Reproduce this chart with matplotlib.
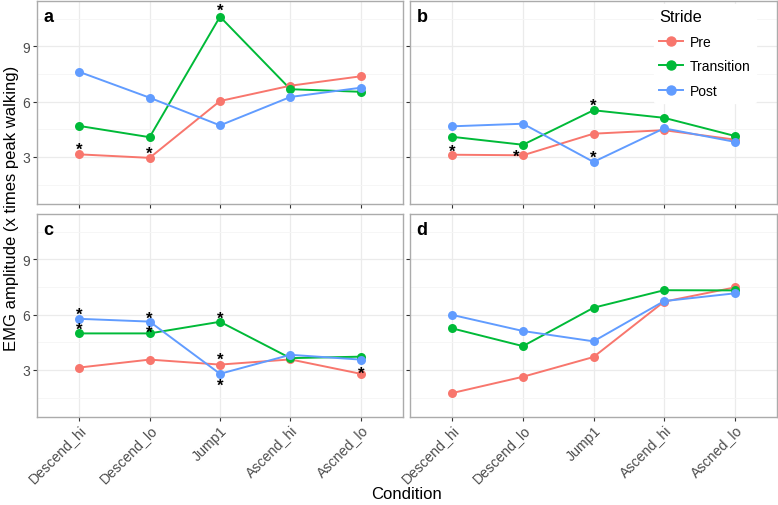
import matplotlib
matplotlib.use("Agg")
import matplotlib.pyplot as plt
from matplotlib.lines import Line2D
import matplotlib.transforms as mtransforms

plt.rcParams['font.family'] = ['Liberation Sans', 'DejaVu Sans']

conditions = ["Descend_hi", "Descend_lo", "Jump1", "Ascend_hi", "Ascned_lo"]
strides = ["Pre", "Transition", "Post"]
colors = {"Pre": "#F8766D", "Transition": "#00BA38", "Post": "#619CFF"}
panels = ["a", "b", "c", "d"]

a_pre = [3.14, 2.95, 6.03, 6.86, 7.37]
a_transition = [4.68, 4.07, 10.60, 6.67, 6.53]
a_post = [7.61, 6.21, 4.71, 6.25, 6.75]

b_pre = [3.12, 3.09, 4.26, 4.45, 3.94]
b_transition = [4.09, 3.66, 5.53, 5.12, 4.14]
b_post = [4.66, 4.80, 2.73, 4.55, 3.82]

c_pre = [3.13, 3.56, 3.29, 3.57, 2.79]
c_transition = [4.98, 4.98, 5.61, 3.64, 3.72]
c_post = [5.77, 5.62, 2.79, 3.82, 3.56]

d_pre = [1.75, 2.63, 3.70, 6.70, 7.47]
d_transition = [5.25, 4.29, 6.37, 7.32, 7.31]
d_post = [5.98, 5.11, 4.55, 6.73, 7.15]

data = {
    "a": {"Pre": a_pre, "Transition": a_transition, "Post": a_post},
    "b": {"Pre": b_pre, "Transition": b_transition, "Post": b_post},
    "c": {"Pre": c_pre, "Transition": c_transition, "Post": c_post},
    "d": {"Pre": d_pre, "Transition": d_transition, "Post": d_post},
}

# significance markers: (stride, condition index, vertical offset, horizontal offset)
a_stars = [("Pre", 0, 0.48, 0), ("Pre", 1, 0.46, 0), ("Transition", 2, 0.54, 0)]
b_stars = [("Pre", 0, 0.43, 0), ("Pre", 1, 0.14, -0.1), ("Transition", 2, 0.47, 0),
           ("Post", 2, 0.45, 0)]
c_stars = [("Post", 0, 0.44, 0), ("Transition", 0, 0.45, 0), ("Post", 1, 0.42, 0),
           ("Transition", 1, 0.29, 0), ("Transition", 2, 0.43, 0), ("Pre", 2, 0.50, 0),
           ("Post", 2, -0.40, 0), ("Pre", 4, 0.26, 0)]
d_stars = []
stars = {"a": a_stars, "b": b_stars, "c": c_stars, "d": d_stars}

yticks = [3, 6, 9]

W, H = 778, 506
fig = plt.figure(figsize=(W / 100, H / 100), dpi=100)

boxes = {
    "a": (37, 2, 403, 205),
    "b": (410, 2, 777, 205),
    "c": (37, 215, 403, 418),
    "d": (410, 215, 777, 418),
}

x = list(range(1, len(conditions) + 1))
for p in panels:
    l, t, r, b = boxes[p]
    ax = fig.add_axes([l / W, 1 - b / H, (r - l) / W, (b - t) / H])
    ax.set_facecolor("white")
    ax.set_xlim(0.4, 5.6)
    ax.set_ylim(0.45, 11.45)
    ax.set_yticks(yticks)
    ax.set_yticks([1.5, 4.5, 7.5, 10.5], minor=True)
    ax.set_xticks(x)
    ax.grid(True, which="major", color="#EBEBEB", linewidth=0.9, zorder=0)
    ax.grid(True, which="minor", axis="y", color="#F5F5F5", linewidth=0.6, zorder=0)
    ax.set_axisbelow(True)
    for s in ax.spines.values():
        s.set_color("#ABABAB")
        s.set_linewidth(1.0)
    ax.tick_params(which="minor", length=0)
    ax.tick_params(which="major", length=3, width=0.8, color="#333333",
                   labelsize=10, labelcolor="#4D4D4D", pad=2)
    ax.tick_params(axis="x", pad=1)
    if p in ("a", "c"):
        ax.set_yticklabels([str(v) for v in yticks])
    else:
        ax.set_yticklabels([])
    if p in ("c", "d"):
        ax.set_xticklabels(conditions, rotation=45, ha="right", rotation_mode="anchor",
                           fontsize=10.2)
    else:
        ax.set_xticklabels([])
    for s in strides:
        ax.plot(x, data[p][s], color=colors[s], linewidth=1.4, zorder=3)
        ax.scatter(x, data[p][s], color=colors[s], s=42, zorder=4, linewidths=0)
    star_tr = mtransforms.offset_copy(ax.transData, fig=fig, x=0, y=-4, units="dots")
    for s, ci, dy, dx in stars[p]:
        ax.text(x[ci] + dx, data[p][s][ci] + dy, "*", ha="center", va="center",
                fontsize=12, fontweight="bold", color="black", zorder=5,
                transform=star_tr)
    ax.text(0.018, 0.965, p, transform=ax.transAxes, ha="left", va="top",
            fontsize=13, fontweight="bold", color="black")
    if p == "b":
        handles = [Line2D([0], [0], color=colors[s], marker="o", markersize=6.5,
                          linewidth=1.4) for s in strides]
        leg = ax.legend(handles, strides, title="Stride", loc="upper right",
                        bbox_to_anchor=(0.962, 1.02), frameon=True, fontsize=10,
                        title_fontsize=11.8, handlelength=1.7, handletextpad=0.5,
                        labelspacing=0.75, borderpad=0.4)
        leg.get_frame().set_edgecolor("white")
        leg.get_frame().set_facecolor("white")
        leg.get_frame().set_alpha(1)
        leg._legend_box.align = "left"

fig.text(12 / W, 1 - 208 / H, "EMG amplitude (x times peak walking)", rotation=90,
         ha="center", va="center", fontsize=12)
fig.text(407 / W, 1 - 495 / H, "Condition", ha="center", va="center", fontsize=12)

fig.savefig("out.png", dpi=100)
